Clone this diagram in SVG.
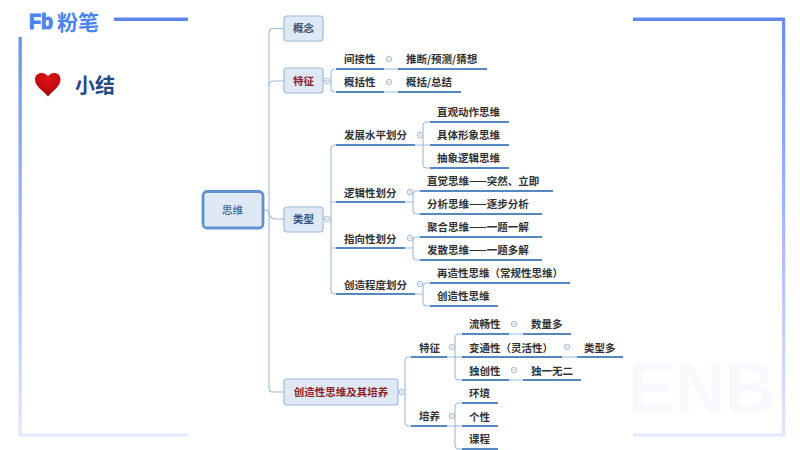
<svg xmlns="http://www.w3.org/2000/svg" xmlns:xlink="http://www.w3.org/1999/xlink" width="800" height="450" viewBox="0 0 800 450">
<style>
text{font-family:"Noto Sans CJK SC","Liberation Sans",sans-serif;font-size:10.5px;dominant-baseline:central}
.l{fill:#333;font-weight:700;transform:translateY(-1px)}
.u{stroke:#5587c2;stroke-width:1.800;fill:none}
.c{stroke:#9dbbdc;stroke-width:1.100;fill:none}
.n{fill:#dfe8f5;stroke:#9dbbdc;stroke-width:1.200}
.m{text-anchor:middle;font-weight:700;transform:translateY(-1px)}
.b{fill:#34547c}
.r{fill:#8e1f28}
.t{fill:#fff;stroke:#a9bdd2;stroke-width:1}
.d{stroke:#a9bdd2;stroke-width:1}
</style>
<defs>
<linearGradient id="fl" x1="0" y1="0" x2="0" y2="1"><stop offset="0" stop-color="#6c8ff0"/><stop offset="1" stop-color="#dfe8fd"/></linearGradient>
<radialGradient id="hg" cx="0.5" cy="0.25" r="0.8"><stop offset="0" stop-color="#e01216"/><stop offset="0.6" stop-color="#c00a0e"/><stop offset="1" stop-color="#7e0406"/></radialGradient>
<clipPath id="wm"><rect x="633" y="340" width="149" height="93"/></clipPath>
<g id="tg"><circle r="2.8" class="t"/><path d="M-1.5 0H1.5" class="d"/></g>
</defs>
<rect width="800" height="450" fill="#fff"/>
<g id="frame">
<rect x="114" y="17.500" width="74" height="3.500" fill="#5f84ea"/>
<rect x="633" y="17.500" width="152" height="3.500" fill="#6487ec"/>
<rect x="18.500" y="37" width="3.300" height="399" fill="url(#fl)"/>
<rect x="782" y="20" width="3.300" height="416" fill="url(#fl)"/>
<rect x="18.500" y="433.500" width="169.500" height="3" fill="#dfe8fd"/>
<rect x="633" y="433.500" width="152" height="3" fill="#dfe8fd"/>
<text x="628" y="388" clip-path="url(#wm)" style="font-family:'Liberation Sans',sans-serif;font-size:70px;font-weight:700" fill="#f8f9fe">ENBI</text>
</g>
<g id="logo">
<text x="29" y="21" textLength="24" lengthAdjust="spacingAndGlyphs" style="font-family:'Liberation Sans',sans-serif;font-size:22px;font-weight:700;stroke:#4b86f0;stroke-width:1.200;stroke-linejoin:round" fill="#4b86f0">Fb</text>
<text x="57" y="21" style="font-size:21px;font-weight:700" fill="#4b86f0">粉笔</text>
</g>
<g id="title">
<path d="M48 96.500C43 90.500 35 86.500 35 79.500C35 75.500 38 73 41.500 73C44.500 73 47 74.500 48 76.500C49 74.500 51.500 73 54.500 73C58 73 60.500 75.500 60.500 79.500C60.500 86.500 53 90.500 48 96.500Z" fill="url(#hg)"/>
<text x="75" y="84" style="font-size:20px;font-weight:700" fill="#1f4a83">小结</text>
</g>
<g id="connectors">
<path class="c" d="M284 28.500H273Q269 28.500 269 33V388Q269 392 273 392H284"/>
<path class="c" d="M269 86Q269 81 274 81H284"/>
<path class="c" d="M263 210H265Q268 210 269 214Q271 219 275 219H284"/>
<path class="c" d="M323 81H327M335 69Q331 69 331 73V88Q331 92 335 92M327 81H331"/>
<path class="c" d="M384 69H398M384 92H398"/>
<path class="c" d="M323 219H327M336 145H335Q331 145 331 149V290Q331 294 335 294H336M331 202H336M331 248H336"/>
<path class="c" d="M415 145H430M427 122Q423 122 423 126V164Q423 168 427 168H430M427 122H430"/>
<path class="c" d="M405 202H413M420 191H417Q413 191 413 195V210Q413 214 417 214H420"/>
<path class="c" d="M405 248H413M420 237H417Q413 237 413 241V256Q413 260 417 260H420"/>
<path class="c" d="M415 294H423M430 283H427Q423 283 423 287V302Q423 306 427 306H430"/>
<path class="c" d="M398 392H405M411 357H409Q405 357 405 361V422Q405 426 409 426H411"/>
<path class="c" d="M447 357H462M462 334H459Q455 334 455 338V376Q455 380 459 380H462"/>
<path class="c" d="M509 334H523M562 357H577M509 380H523"/>
<path class="c" d="M447 426H462M462 403H459Q455 403 455 407V445Q455 449 459 449H462"/>
<use xlink:href="#tg" href="#tg" x="327" y="81"/>
<use xlink:href="#tg" href="#tg" x="389" y="59"/>
<use xlink:href="#tg" href="#tg" x="389" y="82"/>
<use xlink:href="#tg" href="#tg" x="327" y="219"/>
<use xlink:href="#tg" href="#tg" x="420" y="135"/>
<use xlink:href="#tg" href="#tg" x="410" y="192"/>
<use xlink:href="#tg" href="#tg" x="410" y="238"/>
<use xlink:href="#tg" href="#tg" x="420" y="284"/>
<use xlink:href="#tg" href="#tg" x="402" y="392"/>
<use xlink:href="#tg" href="#tg" x="452" y="347"/>
<use xlink:href="#tg" href="#tg" x="452" y="416"/>
<use xlink:href="#tg" href="#tg" x="514" y="324"/>
<use xlink:href="#tg" href="#tg" x="567" y="347"/>
<use xlink:href="#tg" href="#tg" x="514" y="370"/>
</g>
<g id="n-root"><rect x="203" y="191.500" width="60" height="36.500" rx="4" fill="#dfe8f5" stroke="#5f93cf" stroke-width="2.800"/><text x="232.500" y="209" text-anchor="middle" font-weight="500" fill="#3f6a9a">思维</text></g>
<g id="n-gainian"><rect class="n" x="284" y="16" width="39" height="25" rx="3"/><text class="m b" x="303.500" y="28.500">概念</text></g>
<g id="n-tezheng"><rect class="n" x="284" y="68" width="39" height="25" rx="3"/><text class="m r" x="303.500" y="81">特征</text></g>
<g id="n-leixing"><rect class="n" x="284" y="207" width="39" height="25" rx="3"/><text class="m b" x="303.500" y="219.500">类型</text></g>
<g id="n-chuangzao"><rect class="n" x="284" y="379" width="114" height="26" rx="3"/><text class="m r" x="341" y="392">创造性思维及其培养</text></g>
<g id="n1"><text class="l" x="344" y="59">间接性</text><path class="u" d="M336 69H384"/></g>
<g id="n2"><text class="l" x="406" y="59">推断/预测/猜想</text><path class="u" d="M398 69H487"/></g>
<g id="n3"><text class="l" x="344" y="82">概括性</text><path class="u" d="M336 92H384"/></g>
<g id="n4"><text class="l" x="406" y="82">概括/总结</text><path class="u" d="M398 92H461"/></g>
<g id="n5"><text class="l" x="344" y="135">发展水平划分</text><path class="u" d="M336 145H415"/></g>
<g id="n6"><text class="l" x="437" y="112">直观动作思维</text><path class="u" d="M430 122H509"/></g>
<g id="n7"><text class="l" x="437" y="135">具体形象思维</text><path class="u" d="M430 145H509"/></g>
<g id="n8"><text class="l" x="437" y="158">抽象逻辑思维</text><path class="u" d="M430 168H509"/></g>
<g id="n9"><text class="l" x="344" y="193">逻辑性划分</text><path class="u" d="M336 202H405"/></g>
<g id="n10"><text class="l" x="427" y="181">直觉思维——突然、立即</text><path class="u" d="M420 191H553"/></g>
<g id="n11"><text class="l" x="427" y="204">分析思维——逐步分析</text><path class="u" d="M420 214H542"/></g>
<g id="n12"><text class="l" x="344" y="239">指向性划分</text><path class="u" d="M336 248H405"/></g>
<g id="n13"><text class="l" x="427" y="227">聚合思维——一题一解</text><path class="u" d="M420 237H542"/></g>
<g id="n14"><text class="l" x="427" y="250">发散思维——一题多解</text><path class="u" d="M420 260H542"/></g>
<g id="n15"><text class="l" x="344" y="285">创造程度划分</text><path class="u" d="M336 294H415"/></g>
<g id="n16"><text class="l" x="437" y="273">再造性思维（常规性思维）</text><path class="u" d="M430 283H570"/></g>
<g id="n17"><text class="l" x="437" y="296">创造性思维</text><path class="u" d="M430 306H498"/></g>
<g id="n18"><text class="l" x="419" y="348">特征</text><path class="u" d="M411 357H447"/></g>
<g id="n19"><text class="l" x="469" y="324">流畅性</text><path class="u" d="M462 334H509"/></g>
<g id="n20"><text class="l" x="531" y="324">数量多</text><path class="u" d="M523 334H571"/></g>
<g id="n21"><text class="l" x="469" y="348">变通性（灵活性）</text><path class="u" d="M462 357H562"/></g>
<g id="n22"><text class="l" x="584" y="348">类型多</text><path class="u" d="M577 357H623"/></g>
<g id="n23"><text class="l" x="469" y="371">独创性</text><path class="u" d="M462 380H509"/></g>
<g id="n24"><text class="l" x="531" y="371">独一无二</text><path class="u" d="M523 380H581"/></g>
<g id="n25"><text class="l" x="419" y="416">培养</text><path class="u" d="M411 426H447"/></g>
<g id="n26"><text class="l" x="469" y="393">环境</text><path class="u" d="M462 403H498"/></g>
<g id="n27"><text class="l" x="469" y="417">个性</text><path class="u" d="M462 426H498"/></g>
<g id="n28"><text class="l" x="469" y="439">课程</text><path class="u" d="M462 449H498"/></g>
</svg>
